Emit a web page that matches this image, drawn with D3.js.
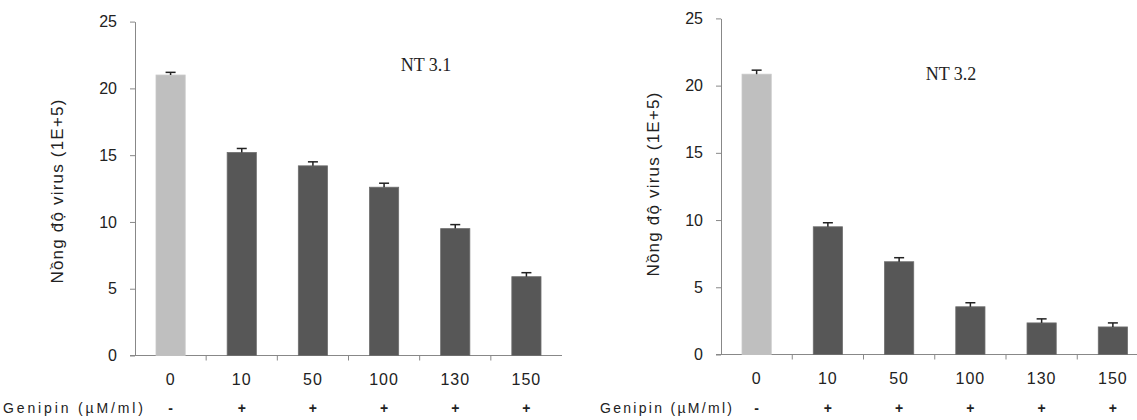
<!DOCTYPE html>
<html lang="vi">
<head>
  <meta charset="UTF-8">
  <title>Genipin – NT 3.1 / NT 3.2</title>
  <style>
    html, body { margin: 0; padding: 0; background: #fff; }
    svg { display: block; }
    text { font-family: "Liberation Sans", Arial, sans-serif; fill: #222; }
  </style>
</head>
<body>
  <script src="https://d3js.org/d3.v7.min.js"></script>
  <script>
    // data
    const doses = ['0', '10', '50', '100', '130', '150'];
    const genipin = ['-', '+', '+', '+', '+', '+'];
    const yTicks = [0, 5, 10, 15, 20, 25];

    const nt31 = [21.0, 15.2, 14.2, 12.6, 9.5, 5.9];
    const nt31Err = [0.2, 0.3, 0.3, 0.3, 0.3, 0.3];
    const nt32 = [20.85, 9.5, 6.9, 3.55, 2.35, 2.05];
    const nt32Err = [0.3, 0.3, 0.3, 0.3, 0.3, 0.3];

    const width = 1137, height = 420;
    const svg = d3.select('body').append('svg')
      .attr('width', width)
      .attr('height', height);

    const axisColor = '#888';

    function panel(opts) {
      const { title, values, errs, x0, x1, yBottom, yTop, titleX, titleY, labelX, labelY, genLeft, genRight } = opts;
      const g = svg.append('g');

      const x = d3.scaleBand().domain(doses).range([x0, x1]).padding(0);
      const y = d3.scaleLinear().domain([0, 25]).range([yBottom, yTop]);
      const barW = x.bandwidth() * 0.41;

      // y axis
      const yAxis = g.append('g')
        .attr('transform', `translate(${x0},0)`)
        .call(d3.axisLeft(y).tickValues(yTicks).tickSize(5).tickPadding(13).tickSizeOuter(0));
      yAxis.select('.domain').attr('stroke', axisColor);
      yAxis.selectAll('.tick line').attr('stroke', axisColor);
      yAxis.selectAll('.tick text')
        .style('font-size', '16px')
        .style('font-family', '"Liberation Sans", Arial, sans-serif')
        .attr('fill', '#222');

      // x axis line and ticks at band edges
      g.append('line')
        .attr('x1', x0 - 5).attr('x2', x1)
        .attr('y1', yBottom).attr('y2', yBottom)
        .attr('stroke', axisColor);
      g.selectAll('.xtick')
        .data(doses.slice(1))
        .enter().append('line')
          .attr('x1', d => x(d)).attr('x2', d => x(d))
          .attr('y1', yBottom).attr('y2', yBottom + 5)
          .attr('stroke', axisColor);

      // bars
      g.selectAll('.bar')
        .data(values)
        .enter().append('rect')
          .attr('x', (d, i) => x(doses[i]) + (x.bandwidth() - barW) / 2)
          .attr('y', d => y(d))
          .attr('width', barW)
          .attr('height', d => y(0) - y(d))
          .attr('fill', (d, i) => i === 0 ? '#bfbfbf' : '#575757')
          .attr('stroke', (d, i) => i === 0 ? '#c8c8c8' : '#6e6e6e')
          .attr('stroke-width', 0.8);

      // error bars (upper whisker only)
      const cx = i => x(doses[i]) + x.bandwidth() / 2;
      g.selectAll('.err')
        .data(values)
        .enter().append('line')
          .attr('x1', (d, i) => cx(i)).attr('x2', (d, i) => cx(i))
          .attr('y1', d => y(d)).attr('y2', (d, i) => y(d + errs[i]))
          .attr('stroke', '#222').attr('stroke-width', 1.5);
      g.selectAll('.cap')
        .data(values)
        .enter().append('line')
          .attr('x1', (d, i) => cx(i) - 5).attr('x2', (d, i) => cx(i) + 5)
          .attr('y1', (d, i) => y(d + errs[i])).attr('y2', (d, i) => y(d + errs[i]))
          .attr('stroke', '#222').attr('stroke-width', 1.5);

      // dose labels
      g.selectAll('.dose')
        .data(doses)
        .enter().append('text')
          .attr('x', d => x(d) + x.bandwidth() / 2)
          .attr('y', yBottom + 29)
          .attr('text-anchor', 'middle')
          .style('font-size', '16px')
          .style('letter-spacing', '1px')
          .text(d => d);

      // genipin row
      g.append('text')
        .attr('x', genLeft)
        .attr('y', 413)
        .attr('textLength', genRight - genLeft)
        .attr('lengthAdjust', 'spacing')
        .style('font-size', '14px')
        .text('Genipin (µM/ml)');
      g.selectAll('.sign')
        .data(genipin)
        .enter().append('text')
          .attr('x', (d, i) => cx(i))
          .attr('y', 413)
          .attr('text-anchor', 'middle')
          .style('font-size', '14px')
          .style('font-weight', 'bold')
          .text(d => d);

      // y axis title
      g.append('text')
        .attr('transform', `translate(${labelX},${labelY}) rotate(-90)`)
        .attr('text-anchor', 'middle')
        .style('font-size', '17px')
        .style('letter-spacing', '1.2px')
        .text('Nồng độ virus (1E+5)');

      // panel title
      g.append('text')
        .attr('x', titleX).attr('y', titleY)
        .attr('text-anchor', 'middle')
        .style('font-family', '"Liberation Serif", "Times New Roman", serif')
        .style('font-size', '18px')
        .text(title);
    }

    panel({
      title: 'NT 3.1', values: nt31, errs: nt31Err,
      x0: 135, x1: 562, yBottom: 355.5, yTop: 21.6,
      titleX: 426, titleY: 71, labelX: 63, labelY: 191,
      genLeft: 3, genRight: 143
    });

    panel({
      title: 'NT 3.2', values: nt32, errs: nt32Err,
      x0: 721, x1: 1148.5, yBottom: 354.5, yTop: 18.4,
      titleX: 951, titleY: 80, labelX: 659, labelY: 184,
      genLeft: 600, genRight: 732
    });
  </script>
</body>
</html>
